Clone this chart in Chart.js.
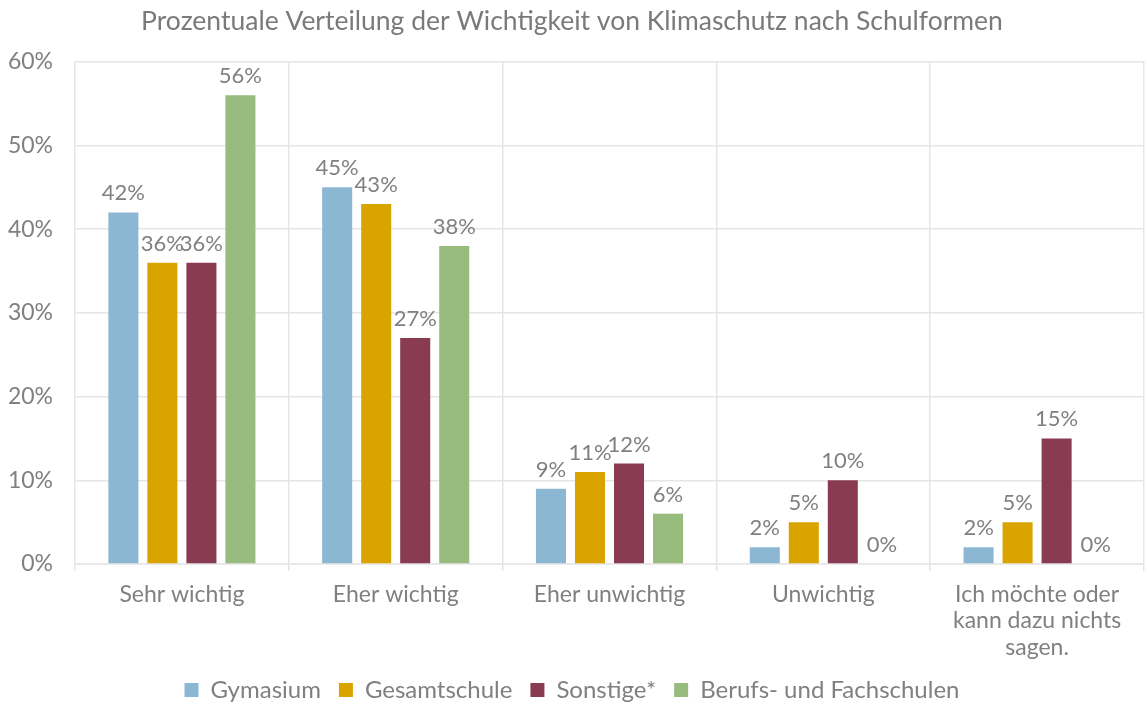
<!DOCTYPE html>
<html>
<head>
<meta charset="utf-8">
<script src="https://cdn.jsdelivr.net/npm/chart.js@4"></script>
<style>
  html, body { margin: 0; padding: 0; background: #ffffff; }
  #wrap { width: 1145px; height: 704px; }
</style>
</head>
<body>
<div id="wrap"><canvas id="chart"></canvas></div>
<script>
// Antworten (Kategorien)
var categories = [
    'Sehr wichtig',
    'Eher wichtig',
    'Eher unwichtig',
    'Unwichtig',
    ['Ich möchte oder', 'kann dazu nichts', 'sagen.']
];

// Anteile je Schulform in Prozent
var gymnasium = [42, 45, 9, 2, 2];
var gesamtschule = [36, 43, 11, 5, 5];
var sonstige = [36, 27, 12, 10, 15];
var berufsschulen = [56, 38, 6, 0, 0];

var seriesNames = ['Gymasium', 'Gesamtschule', 'Sonstige*', 'Berufs- und Fachschulen'];
var seriesColors = ['#8bb7d3', '#d9a300', '#893b51', '#98bb7e'];

var yTicks = [0, 10, 20, 30, 40, 50, 60];

var grey = '#808080';
var gridColor = '#e6e6e6';
var font = 'Lato, "Open Sans", sans-serif';

// Wert über jeden Balken schreiben
var valueLabels = {
    id: 'valueLabels',
    afterDatasetsDraw: function (chart) {
        var ctx = chart.ctx;
        ctx.save();
        ctx.font = '22px ' + font;
        ctx.fillStyle = grey;
        ctx.textAlign = 'center';
        ctx.textBaseline = 'alphabetic';
        chart.data.datasets.forEach(function (ds, i) {
            var meta = chart.getDatasetMeta(i);
            meta.data.forEach(function (bar, j) {
                ctx.fillText(ds.data[j] + '%', bar.x, bar.y - 12);
            });
        });
        ctx.restore();
    }
};

var allSeries = [gymnasium, gesamtschule, sonstige, berufsschulen];
var datasets = allSeries.map(function (values, i) {
    return {
        label: seriesNames[i],
        data: values,
        backgroundColor: seriesColors[i],
        categoryPercentage: 0.73,
        barPercentage: 0.77
    };
});

var ctx = document.getElementById('chart').getContext('2d');
var chart = new Chart(ctx, {
    type: 'bar',
    data: { labels: categories, datasets: datasets },
    options: {
        responsive: true,
        maintainAspectRatio: false,
        animation: false,
        layout: { padding: { left: 0, right: 1, top: 0, bottom: -8 } },
        plugins: {
            title: {
                display: true,
                text: 'Prozentuale Verteilung der Wichtigkeit von Klimaschutz nach Schulformen',
                color: '#7a7a7a',
                font: { family: font, size: 26.5, weight: 'normal' },
                padding: { top: 6, bottom: 24 }
            },
            legend: {
                position: 'bottom',
                labels: {
                    color: grey,
                    font: { family: font, size: 24 },
                    boxWidth: 14,
                    boxHeight: 14,
                    padding: 18
                }
            },
            tooltip: { enabled: false }
        },
        scales: {
            x: {
                grid: { color: gridColor, tickLength: 7, lineWidth: 1.5 },
                border: { color: gridColor, width: 1.5 },
                ticks: {
                    color: grey,
                    font: { family: font, size: 23, lineHeight: 1.15 },
                    padding: 10,
                    maxRotation: 0,
                    autoSkip: false
                },
                afterFit: function (scale) { scale.height = 96; }
            },
            y: {
                min: 0,
                max: 60,
                afterBuildTicks: function (scale) {
                    scale.ticks = yTicks.map(function (v) { return { value: v }; });
                },
                grid: { color: gridColor, drawTicks: false, lineWidth: 1.5 },
                border: { display: false },
                ticks: {
                    color: grey,
                    font: { family: font, size: 23 },
                    padding: 22,
                    callback: function (v) { return v + '%'; }
                },
                afterFit: function (scale) { scale.width = 75; }
            }
        }
    },
    plugins: [valueLabels]
});
</script>
</body>
</html>
